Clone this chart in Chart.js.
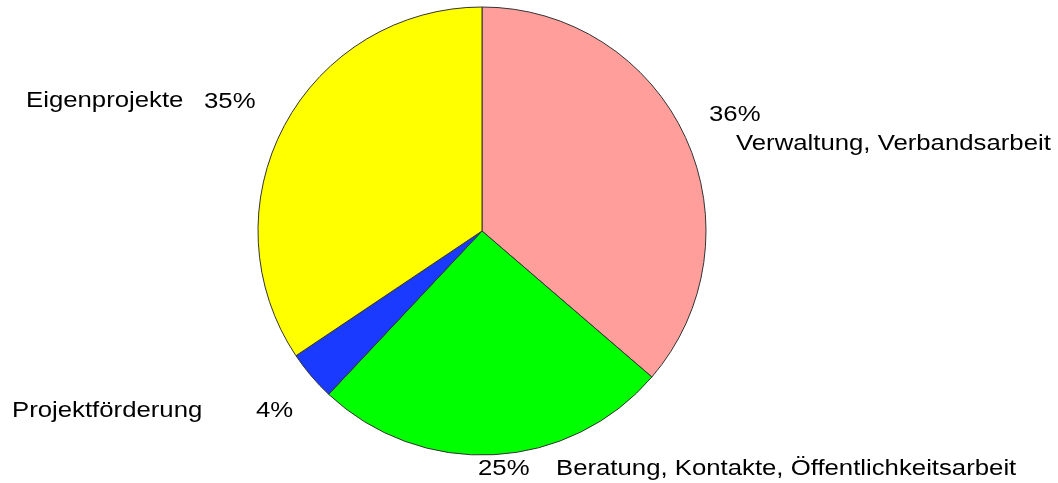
<!DOCTYPE html>
<html>
<head>
<meta charset="utf-8">
<script src="https://cdn.jsdelivr.net/npm/chart.js@4.4.1/dist/chart.umd.min.js"></script>
<style>
html,body{margin:0;padding:0;background:#fff;}
canvas{display:block;}
</style>
</head>
<body>
<canvas id="c" width="1058" height="483"></canvas>
<script>
// Data (clockwise from 12 o'clock)
const categories = ['Verwaltung, Verbandsarbeit', 'Beratung, Kontakte, Öffentlichkeitsarbeit', 'Projektförderung', 'Eigenprojekte'];
const values = [36.3, 25.7, 3.6, 34.4];
const percentLabels = ['36%', '25%', '4%', '35%'];
const colors = ['#FF9E9A', '#00FF00', '#1A3AFF', '#FFFF00'];

// Label placement, offsets from the pie centre (pixels): [pctX, pctY, nameX, nameY]
const labelOffsets = [
  [227, -110, 254, -81],
  [-4, 244, 74, 244],
  [-226, 186, -470, 186],
  [-278, -123, -456, -124]
];

const labelPlugin = {
  id: 'outsideLabels',
  afterDraw(chart) {
    const meta = chart.getDatasetMeta(0);
    const arc = meta.data[0];
    const cx = arc.x, cy = arc.y;
    const ctx = chart.ctx;
    ctx.save();
    ctx.fillStyle = '#000';
    ctx.font = '22px "Liberation Sans", Arial, sans-serif';
    ctx.textBaseline = 'alphabetic';
    ctx.textAlign = 'left';
    const sx = 1.17;
    const draw = (t, x, y) => {
      ctx.save();
      ctx.translate(x, y);
      ctx.scale(sx, 1);
      ctx.fillText(t, 0, 0);
      ctx.restore();
    };
    categories.forEach((name, i) => {
      const o = labelOffsets[i];
      draw(percentLabels[i], cx + o[0], cy + o[1]);
      draw(name, cx + o[2], cy + o[3]);
    });
    ctx.restore();
  }
};

new Chart(document.getElementById('c'), {
  type: 'pie',
  data: {
    labels: categories,
    datasets: [{
      data: values,
      backgroundColor: colors,
      borderColor: '#333333',
      borderWidth: 1,
      radius: 224
    }]
  },
  options: {
    responsive: false,
    animation: false,
    devicePixelRatio: 1,
    layout: { padding: { left: 258, right: 352, top: 7, bottom: 28 } },
    plugins: {
      legend: { display: false },
      tooltip: { enabled: false }
    }
  },
  plugins: [labelPlugin]
});
</script>
</body>
</html>
